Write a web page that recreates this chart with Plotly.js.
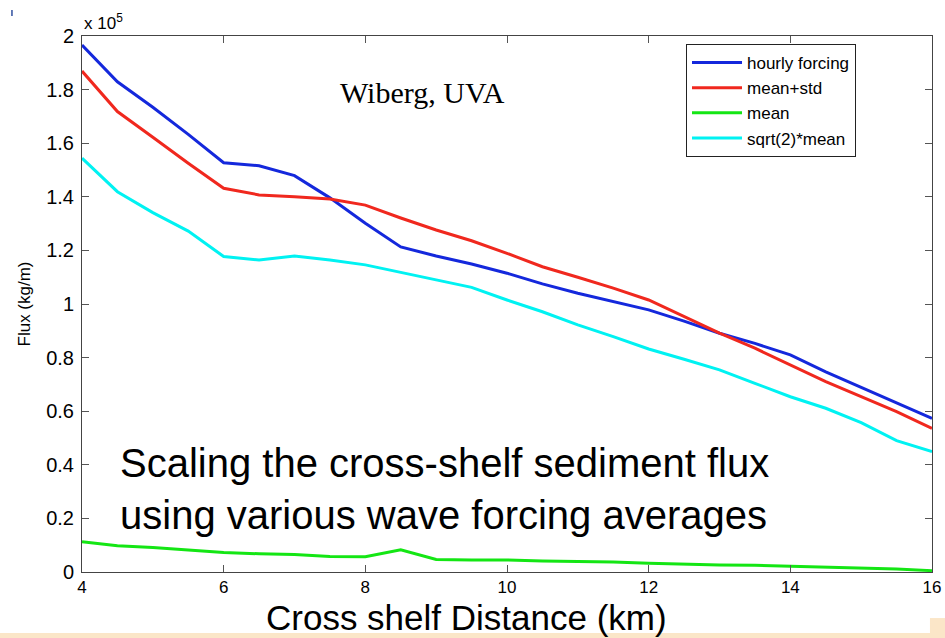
<!DOCTYPE html>
<html>
<head>
<meta charset="utf-8">
<script src="https://cdn.plot.ly/plotly-3.0.1.min.js"></script>
<style>
  html, body { margin: 0; padding: 0; background: #ffffff; }
  #chart { width: 945px; height: 638px; }
</style>
</head>
<body>
<div id="chart"></div>
<script>
// Cross-shelf distance (km)
const distanceKm = [4, 4.5, 5, 5.5, 6, 6.5, 7, 7.5, 8, 8.5, 9, 9.5, 10,
                    10.5, 11, 11.5, 12, 12.5, 13, 13.5, 14, 14.5, 15, 15.5, 16];

// Sediment flux, in units of 10^5 kg/m
const hourlyForcing = [1.966, 1.829, 1.734, 1.633, 1.527, 1.516, 1.479, 1.396, 1.301, 1.213,
                       1.179, 1.149, 1.115, 1.075, 1.040, 1.009, 0.978, 0.936, 0.891, 0.853,
                       0.810, 0.747, 0.689, 0.629, 0.573];
const meanPlusStd   = [1.869, 1.718, 1.622, 1.525, 1.432, 1.407, 1.400, 1.392, 1.369, 1.321,
                       1.276, 1.236, 1.189, 1.139, 1.100, 1.059, 1.015, 0.953, 0.891, 0.835,
                       0.772, 0.710, 0.654, 0.598, 0.536];
const meanForcing   = [0.113, 0.098, 0.091, 0.082, 0.073, 0.068, 0.065, 0.058, 0.057, 0.083,
                       0.047, 0.045, 0.045, 0.041, 0.040, 0.037, 0.033, 0.029, 0.026, 0.025,
                       0.022, 0.019, 0.016, 0.011, 0.005];
const sqrt2Mean     = [1.544, 1.419, 1.341, 1.272, 1.177, 1.164, 1.179, 1.164, 1.146, 1.119,
                       1.090, 1.062, 1.015, 0.971, 0.922, 0.878, 0.832, 0.794, 0.754, 0.704,
                       0.654, 0.611, 0.557, 0.490, 0.449];

const seriesNames  = ['hourly forcing', 'mean+std', 'mean', 'sqrt(2)*mean'];
const seriesValues = [hourlyForcing, meanPlusStd, meanForcing, sqrt2Mean];
const seriesColors = ['#1428dc', '#f0281e', '#14e614', '#00f2f2'];

const sans = 'Liberation Sans, Arial, Helvetica, sans-serif';
const serif = 'Liberation Serif, Times New Roman, serif';

const traces = seriesNames.map((name, i) => ({
  type: 'scatter',
  mode: 'lines',
  name: name,
  x: distanceKm,
  y: seriesValues[i],
  line: { color: seriesColors[i], width: 3 }
}));

const axisCommon = {
  showgrid: false,
  zeroline: false,
  showline: true,
  linecolor: '#444444',
  linewidth: 1,
  mirror: 'ticks',
  ticks: 'inside',
  ticklen: 7,
  tickwidth: 1,
  tickcolor: '#555555'
};

const layout = {
  width: 945,
  height: 638,
  margin: { l: 82, r: 13, t: 36, b: 66 },
  paper_bgcolor: '#ffffff',
  plot_bgcolor: '#ffffff',
  showlegend: true,
  legend: {
    x: 0.7106, y: 0.985, xanchor: 'left', yanchor: 'top',
    bgcolor: '#ffffff', bordercolor: '#222222', borderwidth: 1,
    font: { family: sans, size: 17, color: '#000000' },
    itemwidth: 50,
    tracegroupgap: 0
  },
  xaxis: Object.assign({}, axisCommon, {
    range: [4, 16],
    tick0: 4, dtick: 2,
    ticklabelstandoff: 0,
    tickfont: { family: sans, size: 17, color: '#000000' }
  }),
  yaxis: Object.assign({}, axisCommon, {
    range: [0, 2],
    tick0: 0, dtick: 0.2,
    ticklabelstandoff: 3,
    tickfont: { family: sans, size: 20, color: '#000000' },
    title: { text: 'Flux (kg/m)', font: { family: sans, size: 17, color: '#000000' }, standoff: 11 }
  }),
  annotations: [
    {
      text: 'x 10<sup>5</sup>', xref: 'paper', yref: 'paper',
      x: 0, y: 1.002, xanchor: 'left', yanchor: 'bottom', showarrow: false,
      font: { family: sans, size: 17, color: '#000000' }
    },
    {
      text: 'Wiberg, UVA', xref: 'paper', yref: 'paper',
      x: 0.4, y: 0.894, xanchor: 'center', yanchor: 'middle', showarrow: false,
      font: { family: serif, size: 30, color: '#000000' }
    },
    {
      text: 'Scaling the cross-shelf sediment flux<br>using various wave forcing averages',
      xref: 'paper', yref: 'paper', x: 0.042, y: 0.155, xanchor: 'left', yanchor: 'middle',
      align: 'left', showarrow: false,
      font: { family: sans, size: 40, color: '#000000' }
    },
    {
      text: 'Cross shelf Distance (km)', xref: 'paper', yref: 'paper',
      x: 0.452, y: -0.0855, xanchor: 'center', yanchor: 'middle', showarrow: false,
      font: { family: sans, size: 35, color: '#000000' }
    }
  ],
  shapes: [
    // slide footer band
    { type: 'rect', xref: 'paper', yref: 'paper', layer: 'below',
      x0: -0.0965, x1: 1.0153, y0: -0.1232, y1: -0.1139,
      fillcolor: '#fbe6c8', line: { width: 0 } },
    { type: 'rect', xref: 'paper', yref: 'paper', layer: 'below',
      x0: 0.9976, x1: 1.0153, y0: -0.1232, y1: -0.0859,
      fillcolor: '#fbe6c8', line: { width: 0 } },
    // small mark in the corner
    { type: 'line', xref: 'paper', yref: 'paper',
      x0: -0.0824, x1: -0.0824, y0: 1.0373, y1: 1.0485,
      line: { color: '#3050a0', width: 1.5 } }
  ]
};

Plotly.newPlot('chart', traces, layout, { displayModeBar: false, staticPlot: true });
</script>
</body>
</html>
